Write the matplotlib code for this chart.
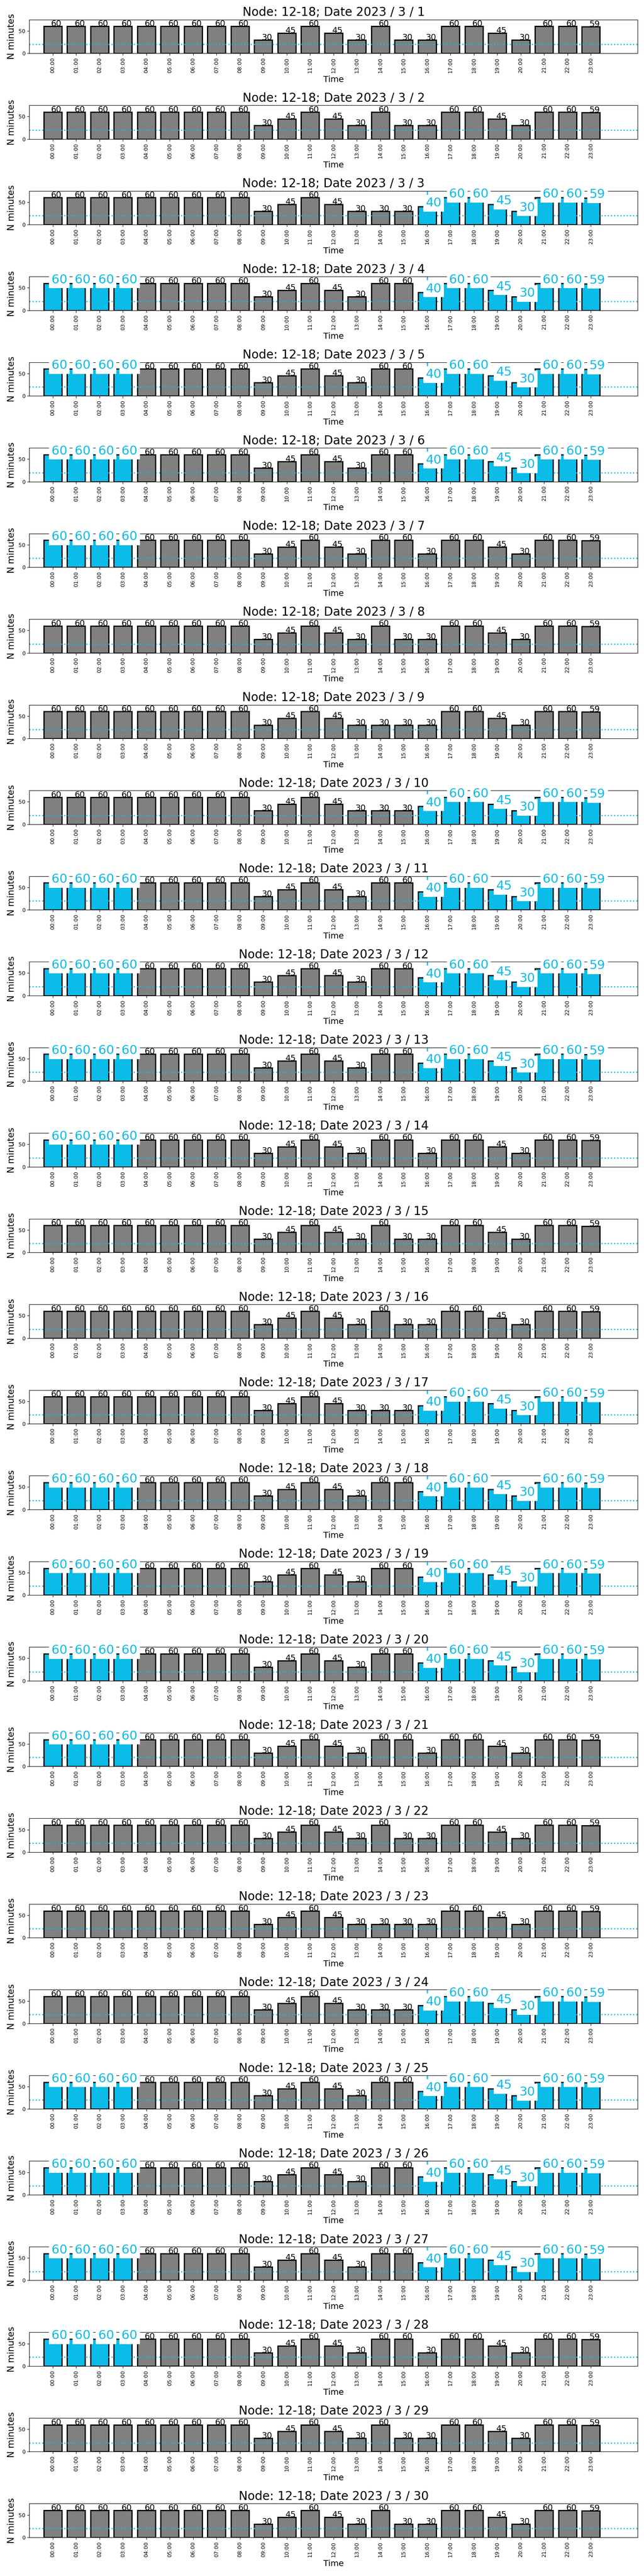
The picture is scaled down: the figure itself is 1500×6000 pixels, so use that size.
import matplotlib.pyplot as plt

hours = [f"{h:02d}:00" for h in range(24)]
days = list(range(1, 31))

# minutes per hour, shared by every day
common = [60, 60, 60, 60, 60, 60, 60, 60, 60, 30, 45, 60,
          45, 30, 60, 30, 30, 60, 60, 45, 30, 60, 60, 59]

# hours that change from day to day (14:00, 15:00, 16:00)
h14 = [60, 60, 30, 60, 60, 60, 60, 60, 30, 30, 60, 60, 60, 60, 60,
       60, 30, 60, 60, 60, 60, 60, 30, 30, 60, 60, 60, 60, 60, 60]
h15 = [30, 30, 30, 60, 60, 60, 60, 30, 30, 30, 60, 60, 60, 60, 30,
       30, 30, 60, 60, 60, 60, 30, 30, 30, 60, 60, 60, 60, 30, 30]
h16 = [30, 30, 40, 40, 40, 40, 30, 30, 30, 40, 40, 40, 40, 30, 30,
       30, 40, 40, 40, 40, 30, 30, 30, 40, 40, 40, 40, 30, 30, 30]

# days whose 00:00-03:00 / 16:00-23:00 are highlighted
early_days = [4, 5, 6, 7, 11, 12, 13, 14, 18, 19, 20, 21, 25, 26, 27, 28]
late_days = [3, 4, 5, 6, 10, 11, 12, 13, 17, 18, 19, 20, 24, 25, 26, 27]
early_hours = [0, 1, 2, 3]
late_hours = list(range(16, 24))

blue = '#0bbbe8'

fig, axes = plt.subplots(30, 1, figsize=(15, 60), dpi=100)
fig.subplots_adjust(left=0.0456, right=0.9903, top=0.9924, bottom=0.015, hspace=1.538)

for k, day in enumerate(days):
    ax = axes[k]
    vals = list(common)
    vals[14] = h14[k]
    vals[15] = h15[k]
    vals[16] = h16[k]

    hl = []
    if day in early_days:
        hl += early_hours
    if day in late_days:
        hl += late_hours
    colors = [blue if h in hl else 'gray' for h in range(24)]

    ax.bar(range(24), vals, width=0.77, color=colors, edgecolor='black', linewidth=2)
    ax.axhline(20, color=blue, linestyle=':', linewidth=2)
    if day in late_days:
        ax.axvline(16, color=blue, linewidth=2)

    for h, v in enumerate(vals):
        if h in hl:
            ax.text(h - 0.06, v, str(v), fontsize=21, color=blue,
                    bbox=dict(facecolor='white', edgecolor='none'))
        else:
            ax.text(h - 0.07, v, str(v), fontsize=14)

    ax.set_xlim(-1, 25)
    ax.set_ylim(0, 75)
    ax.set_yticks([0, 50])
    ax.set_xticks(range(24))
    ax.set_xticklabels(hours, rotation=90, fontsize=9)
    ax.tick_params(axis='y', labelsize=9)
    ax.set_title(f'Node: 12-18; Date 2023 / 3 / {day}', fontsize=20)
    ax.set_xlabel('Time', fontsize=14)
    ax.set_ylabel('N minutes', fontsize=15)

plt.savefig('out.png')
